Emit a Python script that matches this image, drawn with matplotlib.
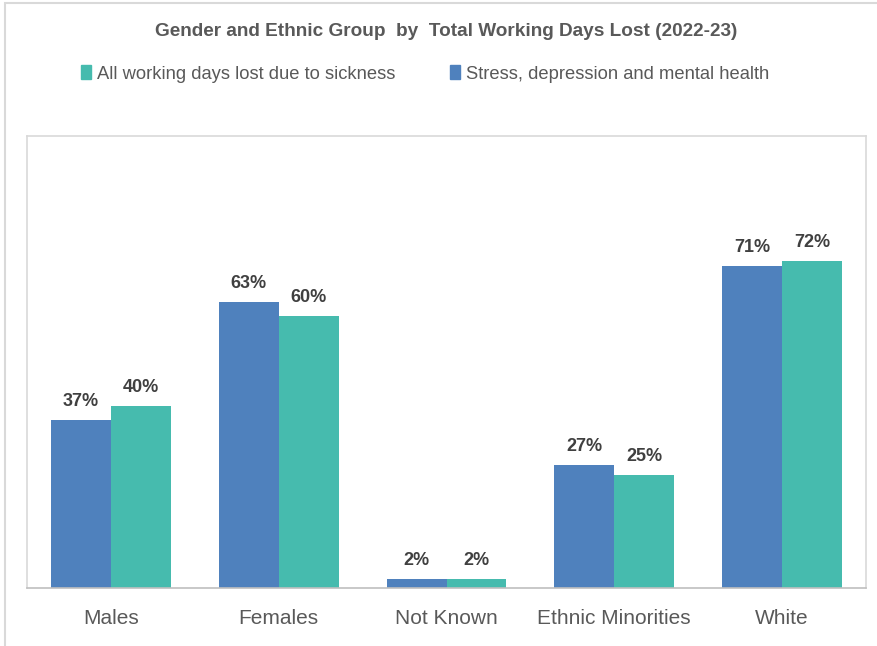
import matplotlib.pyplot as plt
import matplotlib.patches as mpatches
import numpy as np

categories = ['Males', 'Females', 'Not Known', 'Ethnic Minorities', 'White']
stress = [37, 63, 2, 27, 71]
all_days = [40, 60, 2, 25, 72]

blue = '#4F81BD'
teal = '#46BBAE'
txt = '#595959'

plt.rcParams['font.family'] = ['Liberation Sans', 'DejaVu Sans']

fig = plt.figure(figsize=(8.77, 6.46), dpi=100)
ax = fig.add_axes([27/877, 58/646, 839/877, 452/646])

# cadre gris autour de la figure
fig.patches.append(mpatches.Rectangle((5/877, -0.1), 1.2, 1 - 3/646 + 0.1,
                                      transform=fig.transFigure, fill=False,
                                      edgecolor='#d9d9d9', linewidth=1.5))

x = np.arange(len(categories))
w = 0.357
b1 = ax.bar(x - w/2, stress, w, color=blue, label='Stress, depression and mental health')
b2 = ax.bar(x + w/2, all_days, w, color=teal, label='All working days lost due to sickness')

for bars in (b1, b2):
    for r in bars:
        ax.text(r.get_x() + r.get_width()/2, r.get_height() + 2.2, f'{r.get_height():.0f}%',
                ha='center', va='bottom', fontsize=13, fontweight='bold', color='#404040')

ax.set_xlim(-0.5, 4.5)
ax.set_ylim(0, 99.6)
ax.set_yticks([])
ax.set_xticks(x)
ax.set_xticklabels(categories, fontsize=15, color=txt)
ax.tick_params(axis='x', length=0, pad=15)
for s in ax.spines.values():
    s.set_color('#d9d9d9')
    s.set_linewidth(1.2)
ax.spines['bottom'].set_color('#bfbfbf')

fig.text(446.5/877, 1 - 31/646, 'Gender and Ethnic Group  by  Total Working Days Lost (2022-23)',
         ha='center', va='center', fontsize=13.7, fontweight='bold', color=txt)

s = mpatches.Patch(color=teal, label='All working days lost due to sickness')
m = mpatches.Patch(color=blue, label='Stress, depression and mental health')
fig.legend(handles=[s, m], loc='center', bbox_to_anchor=(425/877, 1 - 74/646), ncol=2,
           frameon=False, fontsize=13.2, labelcolor=txt, handlelength=0.55, handleheight=0.75,
           handletextpad=0.3, columnspacing=3.0)

plt.savefig('out.png', dpi=100)
